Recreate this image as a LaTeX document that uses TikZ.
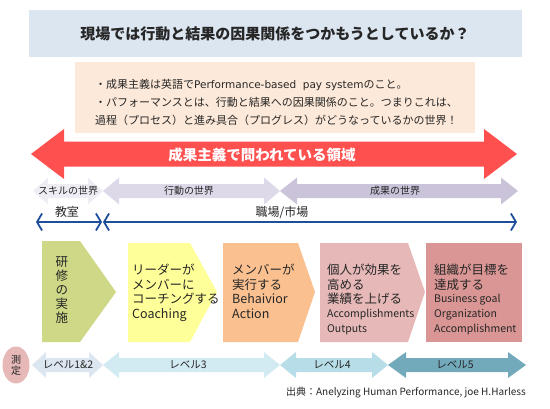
\documentclass[tikz,border=0pt]{standalone}
\usepackage{fontspec}
\setmainfont{Noto Sans CJK JP}
\newfontfamily\latinfont{DejaVu Sans}
\usetikzlibrary{arrows.meta,shapes.geometric}
\definecolor{titlebg}{HTML}{DCE6F1}
\definecolor{notebg}{HTML}{FDE9D9}
\definecolor{bigred}{HTML}{FF5050}
\definecolor{skillc}{HTML}{EEEDF4}
\definecolor{actc}{HTML}{DDD9E8}
\definecolor{resc}{HTML}{CAC3DA}
\definecolor{lvla}{HTML}{DCE6F0}
\definecolor{lvlb}{HTML}{D2EAF1}
\definecolor{lvlc}{HTML}{B6DDE8}
\definecolor{lvld}{HTML}{72AABC}
\definecolor{ovalc}{HTML}{E6B9B8}
\definecolor{greenbox}{HTML}{CFD886}
\definecolor{yellowbox}{HTML}{FFFF99}
\definecolor{orangebox}{HTML}{FAC090}
\definecolor{pinkbox}{HTML}{E6B9B8}
\definecolor{darkbox}{HTML}{D99694}
\definecolor{lineblue}{HTML}{1E4E9C}
\definecolor{textgray}{HTML}{262626}
\tikzset{
	txt/.style={inner sep=0pt, text=textgray},
	noteline/.style={txt, anchor=base west, font=\fontsize{11}{13}\selectfont},
	jline/.style={txt, anchor=base west, font=\fontsize{12.5}{15}\selectfont},
	eline/.style={txt, anchor=base west, font=\fontsize{10.5}{13}\selectfont},
	wlabel/.style={txt, font=\fontsize{10}{12}\selectfont},
	lvllabel/.style={txt, font=\fontsize{10.5}{12}\selectfont},
	bluearrow/.style={draw=lineblue, line width=1.8pt,
		{Straight Barb[length=5pt,width=17pt]}-{Straight Barb[length=5pt,width=17pt]}},
}
% double arrow: x1, x2, y, head half, shaft half, head length, colour
\newcommand{\dblarrow}[7]{%
	\fill[#7] (#1,#3) -- (#1+#6,#3-#4) -- (#1+#6,#3-#5) -- (#2-#6,#3-#5) -- (#2-#6,#3-#4)
	-- (#2,#3) -- (#2-#6,#3+#4) -- (#2-#6,#3+#5) -- (#1+#6,#3+#5) -- (#1+#6,#3+#4) -- cycle;}
\begin{document}
\begin{tikzpicture}[x=1pt,y=-1pt, line join=round]
	\useasboundingbox (0,0) rectangle (550,408);
	% title and note
	\fill[titlebg] (29,10) rectangle (522,57);
	\node[txt, font=\fontsize{15}{18}\selectfont\bfseries] (title) at (275,34) {現場では行動と結果の因果関係をつかもうとしているか？};
	\fill[notebg] (75,62) rectangle (475,133);
	\node[noteline] (note1) at (95,88) {・成果主義は英語で{\latinfont\fontsize{10.5}{13}\selectfont Performance-based\ \ pay system}のこと。};
	\node[noteline] (note2) at (95,106) {・パフォーマンスとは、行動と結果への因果関係のこと。つまりこれは、};
	\node[noteline] (note3) at (95,124) {過程（プロセス）と進み具合（プログレス）がどうなっているかの世界！};
	% red arrow
	\dblarrow{31}{517}{154}{25}{12.5}{33}{bigred}
	\node[inner sep=0pt, text=white, font=\fontsize{14.5}{17}\selectfont\bfseries] (domain) at (262,155) {成果主義で問われている領域};
	% worlds
	\dblarrow{33}{103}{191}{13.5}{7}{15}{skillc}
	\dblarrow{103}{280}{191}{13.5}{7}{16}{actc}
	\dblarrow{280}{518}{191}{13.5}{7}{17}{resc}
	\node[wlabel] (skill) at (68,191) {スキルの世界};
	\node[wlabel] (act) at (189,191) {行動の世界};
	\node[wlabel] (res) at (395,191) {成果の世界};
	% classroom / workplace
	\coordinate (cl) at (36,222); \coordinate (cr) at (102,222);
	\coordinate (wl) at (103,222); \coordinate (wr) at (517,222);
	\draw[bluearrow] (cl) -- (cr);
	\draw[bluearrow] (wl) -- (wr);
	\node[txt, font=\fontsize{12}{14}\selectfont] (room) at (67,212) {教室};
	\node[txt, font=\fontsize{12}{14}\selectfont] (work) at (282,212) {職場/市場};
	% steps
	\fill[greenbox] (42,241) -- (80,241) -- (116,292) -- (80,342) -- (42,342) -- cycle;
	\fill[yellowbox] (128,243) -- (190,243) -- (217,292) -- (190,342) -- (128,342) -- cycle;
	\fill[orangebox] (223,243) -- (298,243) -- (315,292) -- (298,342) -- (223,342) -- cycle;
	\fill[pinkbox] (320,243) -- (408,243) -- (425,292) -- (408,342) -- (320,342) -- cycle;
	\fill[darkbox] (426,243) rectangle (522,342);
	\node[txt, align=center, font=\fontsize{12.5}{14}\selectfont] (train) at (62,290) {研\\修\\の\\実\\施};
	\node[jline] (y1) at (132,274) {リーダーが};
	\node[jline] (y2) at (132,289) {メンバーに};
	\node[jline] (y3) at (132,303) {コーチングする};
	\node[jline] (y4) at (132,318) {Coaching};
	\node[jline] (o1) at (232,274) {メンバーが};
	\node[jline] (o2) at (232,289) {実行する};
	\node[jline] (o3) at (232,303) {Behaivior};
	\node[jline] (o4) at (232,318) {Action};
	\node[jline] (p1) at (327,274) {個人が効果を};
	\node[jline] (p2) at (327,289) {高める};
	\node[jline] (p3) at (327,303) {業績を上げる};
	\node[eline] (p4) at (327,317) {Accomplishments};
	\node[eline] (p5) at (327,332) {Outputs};
	\node[jline] (d1) at (434,274) {組織が目標を};
	\node[jline] (d2) at (434,289) {達成する};
	\node[eline] (d3) at (434,302) {Business goal};
	\node[eline] (d4) at (434,317) {Organization};
	\node[eline] (d5) at (434,332) {Accomplishment};
	% levels
	\node[ellipse, fill=ovalc, minimum width=27, minimum height=37, inner sep=0pt,
		align=center, text=textgray, font=\fontsize{10}{11}\selectfont] (measure) at (16,365) {測\\定};
	\dblarrow{32}{103}{365}{13}{7}{14}{lvla}
	\dblarrow{103}{280}{365}{13}{7}{16}{lvlb}
	\dblarrow{280}{388}{365}{13}{7}{16}{lvlc}
	\dblarrow{388}{526}{365}{13}{7}{18}{lvld}
	\node[lvllabel] (l12) at (68,365) {レベル1\&2};
	\node[lvllabel] (l3) at (188,365) {レベル3};
	\node[lvllabel] (l4) at (332,365) {レベル4};
	\node[lvllabel] (l5) at (455,365) {レベル5};
	\node[txt, anchor=east, font=\fontsize{10}{12}\selectfont] (src) at (526,393) {出典：Anelyzing Human Performance, joe H.Harless};
\end{tikzpicture}
\end{document}
